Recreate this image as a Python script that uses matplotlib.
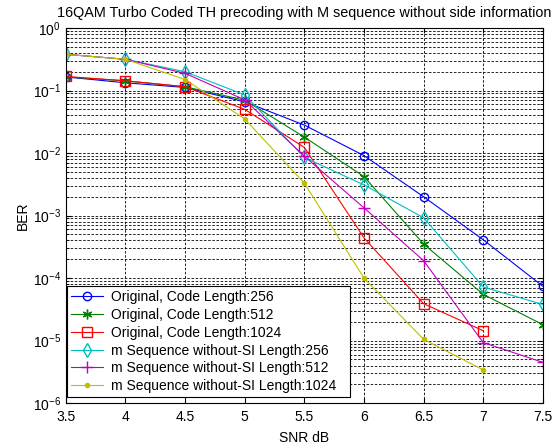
import matplotlib
matplotlib.use("Agg")
import matplotlib.pyplot as plt
import numpy as np
from matplotlib.ticker import LogLocator, NullFormatter

plt.rcParams['font.family'] = ['Liberation Sans', 'DejaVu Sans']
plt.rcParams['mathtext.fontset'] = 'custom'
plt.rcParams['mathtext.rm'] = 'Liberation Sans'

snr = [3.5, 4, 4.5, 5, 5.5, 6, 6.5, 7, 7.5]
snr_short = [3.5, 4, 4.5, 5, 5.5, 6, 6.5, 7]

orig_256 = [0.165, 0.133, 0.112, 0.066, 0.028, 0.0091, 0.0020, 0.00041, 7.4e-5]
orig_512 = [0.165, 0.143, 0.115, 0.070, 0.018, 0.0042, 0.00035, 5.5e-5, 1.8e-5]
orig_1024 = [0.168, 0.143, 0.115, 0.050, 0.0123, 0.00044, 3.9e-5, 1.44e-5]
mseq_256 = [0.38, 0.316, 0.20, 0.085, 0.0085, 0.0031, 0.00092, 7.2e-5, 3.8e-5]
mseq_512 = [0.38, 0.316, 0.188, 0.071, 0.0089, 0.00133, 0.00019, 9.3e-6, 4.5e-6]
mseq_1024 = [0.38, 0.316, 0.15, 0.035, 0.0033, 0.0001, 1.05e-5, 3.4e-6]

labels = ['Original, Code Length:256', 'Original, Code Length:512',
          'Original, Code Length:1024', 'm Sequence without-SI Length:256',
          'm Sequence without-SI Length:512', 'm Sequence without-SI Length:1024']
xtick_labels = ['3.5', '4', '4.5', '5', '5.5', '6', '6.5', '7', '7.5']
ytick_values = [1e-6, 1e-5, 1e-4, 1e-3, 1e-2, 1e-1, 1e0]

fig = plt.figure(figsize=(5.58, 4.48), dpi=100)
ax = fig.add_axes([0.118, 0.100, 0.855, 0.8375])

lw = 0.8
ax.semilogy(snr, orig_256, color=(0, 0, 1), marker='o', mfc='none', ms=6, lw=lw, label=labels[0])
ax.semilogy(snr, orig_512, color=(0, 0.5, 0), marker=(6, 2, 0), ms=7, mew=1.0, lw=lw, label=labels[1])
ax.semilogy(snr_short, orig_1024, color=(1, 0, 0), marker='s', mfc='none', ms=7, lw=lw, label=labels[2])
ax.semilogy(snr, mseq_256, color=(0, 0.75, 0.75), marker='d', mfc='none', ms=7, lw=lw, label=labels[3])
ax.semilogy(snr, mseq_512, color=(0.75, 0, 0.75), marker='+', ms=8, mew=1.0, lw=lw, label=labels[4])
ax.semilogy(snr_short, mseq_1024, color=(0.75, 0.75, 0), marker='.', ms=6, lw=lw, label=labels[5])

ax.set_xlim(3.5, 7.5)
ax.set_ylim(1e-6, 1)
ax.set_xticks(snr)
ax.set_xticklabels(xtick_labels)
ax.set_yticks(ytick_values)
ax.yaxis.set_minor_locator(LogLocator(base=10, subs=np.arange(2, 10), numticks=20))
ax.yaxis.set_minor_formatter(NullFormatter())

ax.grid(True, which='major', color='black', linestyle=(0, (3, 2)), linewidth=0.6)
ax.grid(True, which='minor', axis='y', color='black', linestyle=(0, (3, 2)), linewidth=0.6)
ax.tick_params(which='both', direction='in', top=True, right=True, labelsize=10)
ax.tick_params(axis='x', pad=5)
ax.tick_params(which='minor', length=2)
for s in ax.spines.values():
    s.set_linewidth(0.8)

ax.set_xlabel('SNR dB', fontsize=10, labelpad=5)
ax.set_ylabel('BER', fontsize=10, labelpad=2)
ax.set_title('16QAM Turbo Coded TH precoding with M sequence without side information',
             fontsize=10.4, pad=8)

leg = ax.legend(loc='lower left', bbox_to_anchor=(0.002, 0.016, 0.593, 0.0), mode='expand',
                fontsize=10, fancybox=False, edgecolor='black', framealpha=1, borderaxespad=0,
                handlelength=2.3, labelspacing=0.27, borderpad=0.3, handletextpad=0.6)
leg.get_frame().set_linewidth(0.8)

fig.savefig('out.png', dpi=100)
